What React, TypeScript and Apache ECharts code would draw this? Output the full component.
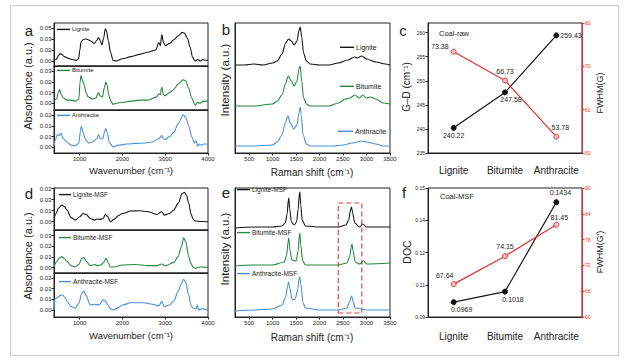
import React, { useEffect, useRef } from "react";
import * as echarts from "echarts";

const FONT = "Liberation Sans, Arial, Helvetica, sans-serif";

// ---------- Panel a: FTIR of raw coals (wavenumber, absorbance) ----------
const A_LIGNITE: [number, number][] = [
  [400, 0.001], [450, 0.002], [500, 0.007], [540, 0.010], [580, 0.009], [640, 0.006], [720, 0.004],
  [820, 0.002], [920, 0.001], [975, 0.003], [1005, 0.015], [1030, 0.026], [1080, 0.029], [1140, 0.030],
  [1200, 0.029], [1270, 0.027], [1340, 0.024], [1400, 0.028], [1440, 0.032], [1480, 0.028], [1520, 0.022],
  [1560, 0.031], [1600, 0.044], [1630, 0.040], [1670, 0.028], [1720, 0.012], [1780, 0.001], [1850, 0.0],
  [2000, 0.003], [2200, 0.006], [2400, 0.009], [2600, 0.012], [2780, 0.015], [2850, 0.025], [2885, 0.021],
  [2920, 0.036], [2960, 0.025], [3000, 0.021], [3100, 0.024], [3200, 0.029], [3300, 0.034], [3400, 0.039],
  [3450, 0.038], [3520, 0.031], [3580, 0.019], [3640, 0.005], [3700, 0.0], [3760, 0.002], [3820, 0.0],
  [3880, 0.002], [3940, 0.001], [4000, 0.001],
];
const A_BITUMITE: [number, number][] = [
  [400, 0.002], [460, 0.004], [500, 0.010], [530, 0.013], [570, 0.008], [620, 0.005], [700, 0.003],
  [800, 0.003], [900, 0.002], [980, 0.004], [1010, 0.020], [1030, 0.026], [1060, 0.022], [1100, 0.018],
  [1150, 0.010], [1200, 0.006], [1300, 0.004], [1380, 0.005], [1440, 0.010], [1480, 0.007], [1530, 0.006],
  [1580, 0.015], [1610, 0.020], [1640, 0.017], [1680, 0.008], [1730, 0.002], [1780, -0.001], [1850, 0.0],
  [2000, 0.001], [2200, 0.002], [2400, 0.003], [2600, 0.003], [2800, 0.006], [2850, 0.009], [2880, 0.008],
  [2920, 0.015], [2960, 0.008], [3000, 0.007], [3100, 0.010], [3200, 0.013], [3300, 0.018], [3420, 0.022],
  [3480, 0.021], [3550, 0.014], [3620, 0.005], [3700, -0.002], [3750, 0.001], [3800, 0.0], [3900, 0.002],
  [4000, 0.002],
];
const A_ANTHRACITE: [number, number][] = [
  [400, 0.0003], [440, 0.004], [480, 0.006], [520, 0.0055], [560, 0.0065], [620, 0.004], [700, 0.0025],
  [800, 0.001], [900, 0.0007], [980, 0.002], [1020, 0.008], [1040, 0.010], [1080, 0.007], [1130, 0.004],
  [1200, 0.002], [1300, 0.0025], [1400, 0.004], [1440, 0.006], [1480, 0.004], [1540, 0.004], [1580, 0.007],
  [1610, 0.0088], [1640, 0.007], [1700, 0.002], [1780, 0.0002], [1900, 0.001], [2100, 0.0015], [2300, 0.0018],
  [2500, 0.002], [2700, 0.0025], [2850, 0.004], [2920, 0.0055], [2960, 0.004], [3000, 0.0035], [3100, 0.005],
  [3200, 0.007], [3300, 0.011], [3420, 0.0152], [3480, 0.014], [3550, 0.010], [3620, 0.005], [3680, 0.002],
  [3720, 0.003], [3760, 0.0005], [3800, 0.0015], [3850, 0.001], [3900, 0.0015], [4000, 0.0015],
];

// ---------- Panel d: FTIR of MSF ----------
const D_LIGNITE: [number, number][] = [
  [400, 0.0024], [450, 0.006], [500, 0.0097], [580, 0.0121], [650, 0.011], [700, 0.0085], [800, 0.003],
  [900, 0.0012], [1000, 0.0036], [1080, 0.006], [1150, 0.0053], [1250, 0.0024], [1350, 0.0012], [1400, 0.002],
  [1480, 0.0017], [1550, 0.0024], [1600, 0.0053], [1650, 0.0039], [1720, 0.0], [1800, 0.0017], [1900, 0.0044],
  [2000, 0.006], [2200, 0.0078], [2400, 0.008], [2600, 0.0073], [2800, 0.0053], [2920, 0.0073], [2980, 0.0048],
  [3100, 0.006], [3200, 0.0085], [3300, 0.0133], [3400, 0.0206], [3450, 0.0213], [3500, 0.019], [3550, 0.0133],
  [3600, 0.006], [3650, 0.002], [3700, 0.0005], [3850, 0.0002], [4000, 0.0],
];
const D_BITUMITE: [number, number][] = [
  [400, 0.0009], [450, 0.005], [520, 0.0088], [580, 0.0103], [640, 0.0088], [700, 0.006], [800, 0.0019],
  [900, 0.0006], [980, 0.003], [1050, 0.0088], [1100, 0.0094], [1150, 0.006], [1250, 0.0019], [1350, 0.003],
  [1400, 0.0019], [1500, 0.0025], [1560, 0.005], [1620, 0.0088], [1660, 0.005], [1720, 0.0006], [1800, 0.0006],
  [2000, 0.0025], [2300, 0.003], [2600, 0.0019], [2800, 0.0019], [2920, 0.0034], [3000, 0.0016], [3200, 0.005],
  [3300, 0.0103], [3380, 0.0197], [3430, 0.028], [3480, 0.0244], [3550, 0.0103], [3600, 0.004], [3650, 0.0006],
  [3700, -0.0006], [3800, 0.0006], [4000, 0.0003],
];
const D_ANTHRACITE: [number, number][] = [
  [400, 0.0], [420, 0.0052], [480, 0.0058], [540, 0.0067], [600, 0.007], [660, 0.0058], [720, 0.0036],
  [800, 0.0016], [900, 0.0008], [980, 0.0031], [1050, 0.0078], [1100, 0.0089], [1150, 0.0067], [1250, 0.0023],
  [1350, 0.0027], [1450, 0.0023], [1550, 0.0047], [1600, 0.0042], [1660, 0.0023], [1720, 0.0005], [1800, 0.0],
  [1900, 0.0011], [2000, 0.0023], [2200, 0.0034], [2500, 0.0034], [2700, 0.0027], [2850, 0.0019], [2920, 0.0039],
  [2980, 0.0016], [3100, 0.0023], [3200, 0.0042], [3300, 0.0086], [3380, 0.0125], [3430, 0.0144], [3480, 0.013],
  [3550, 0.007], [3600, 0.0023], [3650, 0.0008], [3720, 0.0005], [3750, 0.0023], [3780, 0.0], [3850, 0.0005],
  [4000, 0.0],
];

// ---------- Panel b: Raman of raw coals (shift, stacked intensity a.u.) ----------
const B_LIGNITE: [number, number][] = [
  [200, 88], [400, 88], [600, 89], [800, 88], [1000, 90], [1100, 92], [1200, 99], [1280, 110], [1340, 114],
  [1400, 112], [1460, 108], [1520, 112], [1560, 122], [1590, 126], [1620, 116], [1660, 100], [1720, 92],
  [1800, 89], [2000, 88], [2200, 88], [2400, 90], [2600, 93], [2750, 96], [2800, 95], [2900, 97], [3000, 94],
  [3200, 91], [3400, 89], [3500, 88],
];
const B_BITUMITE: [number, number][] = [
  [200, 47], [600, 47], [1000, 49], [1100, 52], [1200, 58], [1280, 70], [1335, 77], [1400, 72], [1460, 67],
  [1520, 72], [1560, 84], [1588, 87], [1620, 72], [1660, 55], [1720, 49], [1800, 47], [2000, 47], [2200, 47],
  [2400, 50], [2550, 54], [2650, 55], [2750, 58], [2850, 55], [2920, 58], [3000, 55], [3080, 56], [3200, 54],
  [3350, 50], [3500, 49],
];
const B_ANTHRACITE: [number, number][] = [
  [200, 7], [600, 7], [1000, 8], [1100, 11], [1200, 18], [1270, 30], [1325, 37], [1380, 30], [1450, 24],
  [1520, 28], [1560, 40], [1590, 46], [1610, 38], [1650, 18], [1720, 9], [1800, 7], [2000, 7], [2300, 7],
  [2500, 8], [2700, 10], [2900, 12], [3000, 11], [3200, 9], [3350, 7], [3500, 7],
];

// ---------- Panel e: Raman of MSF ----------
const E_LIGNITE: [number, number][] = [
  [200, 89], [600, 90], [1000, 90], [1200, 91], [1270, 94], [1310, 103], [1335, 117], [1345, 119], [1365, 108],
  [1400, 95], [1460, 92], [1510, 95], [1545, 108], [1570, 123], [1582, 125], [1600, 112], [1630, 97], [1700, 91],
  [2000, 90], [2400, 90], [2560, 92], [2620, 97], [2660, 107], [2680, 110], [2705, 104], [2750, 94], [2850, 90],
  [2920, 93], [3000, 90], [3500, 90],
];
const E_BITUMITE: [number, number][] = [
  [200, 51], [600, 52], [1000, 52], [1250, 55], [1300, 62], [1330, 75], [1345, 79], [1370, 67], [1410, 57],
  [1500, 56], [1545, 66], [1570, 82], [1582, 84], [1600, 72], [1640, 56], [1700, 52], [2000, 52], [2400, 52],
  [2580, 54], [2640, 60], [2675, 70], [2690, 73], [2715, 66], [2760, 55], [2850, 53], [2940, 56], [3000, 53],
  [3500, 54],
];
const E_ANTHRACITE: [number, number][] = [
  [200, 6], [600, 7], [1000, 8], [1200, 12], [1280, 20], [1320, 31], [1340, 35], [1365, 29], [1420, 17],
  [1480, 18], [1530, 26], [1565, 38], [1580, 40], [1600, 33], [1650, 14], [1700, 9], [2000, 7], [2400, 7],
  [2580, 9], [2640, 15], [2670, 20], [2685, 21], [2710, 16], [2760, 9], [3000, 7], [3500, 7],
];
const E_HIGHLIGHT_X = [2400, 2900];
const E_HIGHLIGHT_Y = [4, 114];

// ---------- Panels c and f ----------
const CATEGORIES = ["Lignite", "Bitumite", "Anthracite"];
const GD_RAW = [240.22, 247.58, 259.43];
const FWHM_G_RAW = [73.38, 66.73, 53.78];
const DOC_MSF = [0.0969, 0.1018, 0.1434];
const FWHM_G2_MSF = [67.64, 74.15, 81.45];

// ---------- Tick values / labels ----------
const WN_TICKS = [1000, 2000, 3000, 4000];
const RAMAN_TICKS = [500, 1000, 1500, 2000, 2500, 3000, 3500];
const A1_TICKS = [0, 0.015, 0.03, 0.045];
const A1_LABELS = ["0.00", "0.02", "0.03", "0.05"];
const A2_TICKS = [0, 0.01, 0.02, 0.03];
const A2_LABELS = ["0.00", "0.01", "0.02", "0.03"];
const A3_TICKS = [0, 0.005, 0.01, 0.015];
const A3_LABELS = ["0.00", "0.01", "0.01", "0.02"];
const D1_TICKS = [0, 0.008, 0.016, 0.024];
const D1_LABELS = ["0.00", "0.01", "0.02", "0.02"];
const D2_TICKS = [0, 0.01, 0.02, 0.03];
const D2_LABELS = ["0.00", "0.01", "0.02", "0.03"];
const D3_TICKS = [0, 0.005, 0.01, 0.015];
const D3_LABELS = ["0.00", "0.01", "0.01", "0.02"];
const C_LEFT_TICKS = [235, 240, 245, 250, 255, 260];
const F_LEFT_TICKS = [0.09, 0.105, 0.12, 0.135, 0.15];
const F_LEFT_LABELS = ["0.09", "0.11", "0.12", "0.14", "0.15"];

const BLACK = "#151515";
const GREEN = "#24893d";
const BLUE = "#4a8fd6";
const RED = "#e5312e";
const AXIS = "#222";

const lookup = (ticks: number[], labels: string[]) => (v: number) => {
  const i = ticks.findIndex((t) => Math.abs(t - v) < 1e-9);
  return i >= 0 ? labels[i] : "";
};

function valueX(gridIndex: number, min: number, max: number, ticks: number[], showLabels: boolean) {
  return {
    type: "value", gridIndex, min, max,
    axisLine: { show: true, onZero: false, lineStyle: { color: AXIS, width: 1 } },
    axisTick: { show: showLabels, length: 2.5, customValues: ticks, lineStyle: { color: AXIS } },
    axisLabel: {
      show: showLabels, customValues: ticks, formatter: (v: number) => String(v),
      fontSize: 6, margin: 2.5, color: AXIS, fontFamily: FONT,
    },
    splitLine: { show: false },
  };
}
function valueY(gridIndex: number, min: number, max: number, ticks: number[] | null, labels: string[] | null) {
  return {
    type: "value", gridIndex, min, max,
    axisLine: { show: true, onZero: false, lineStyle: { color: AXIS, width: 1 } },
    axisTick: ticks ? { show: true, length: 2.5, customValues: ticks, lineStyle: { color: AXIS } } : { show: false },
    axisLabel: ticks
      ? { show: true, customValues: ticks, formatter: lookup(ticks, labels as string[]), fontSize: 6, margin: 2.5, color: AXIS, fontFamily: FONT }
      : { show: false },
    splitLine: { show: false },
  };
}
function spec(name: string, data: [number, number][], color: string, xi: number, yi: number, extra: any = {}) {
  return {
    type: "line", name, data, xAxisIndex: xi, yAxisIndex: yi,
    symbol: "none", smooth: 0.3, smoothMonotone: "x",
    lineStyle: { color, width: 1.1 }, itemStyle: { color },
    ...extra,
  };
}
function lbl(value: number, position: any, offset: number[] = [0, 0], distance = 2) {
  return { value, label: { show: true, position, offset, distance, fontSize: 7, color: "#222", fontFamily: FONT } };
}
function legend(name: string, left: number, cy: number, size: number, w: number) {
  return {
    data: [name], left, top: cy - size * 0.6, padding: 0, icon: "rect", itemWidth: w, itemHeight: 1.4, itemGap: 0,
    selectedMode: false, textStyle: { fontSize: size, color: "#222", fontFamily: FONT, padding: [0, 0, 0, -3] },
  };
}
function txt(text: string, x: number, y: number, size: number, opt: any = {}) {
  return {
    type: "text", x, y, rotation: opt.rot || 0, silent: true, z: 100,
    style: {
      text, fontSize: size, fontFamily: FONT, fill: opt.color || "#222",
      align: opt.align || "center", verticalAlign: "middle",
      textAlign: opt.align || "center", textVerticalAlign: "middle",
    },
  };
}
function catAxis(gridIndex: number, margin: number) {
  return {
    type: "category", gridIndex, data: CATEGORIES, boundaryGap: true,
    axisLine: { show: true, lineStyle: { color: AXIS } }, axisTick: { show: false },
    axisLabel: { interval: 0, fontSize: 10, margin, color: "#222", fontFamily: FONT },
  };
}

const GRID_BASE = { show: true, borderColor: AXIS, borderWidth: 1, backgroundColor: "transparent", containLabel: false, outerBoundsMode: "none" };

export default function App() {
  const ref = useRef<HTMLDivElement>(null);
  useEffect(() => {
    if (!ref.current) return;
    const chart = echarts.init(ref.current, null, { renderer: "svg" });
    const option: any = {
      animation: false,
      textStyle: { fontFamily: FONT },
      grid: [
        { ...GRID_BASE, left: 54, top: 23, width: 154, height: 43 },
        { ...GRID_BASE, left: 54, top: 66, width: 154, height: 44 },
        { ...GRID_BASE, left: 54, top: 110, width: 154, height: 43 },
        { ...GRID_BASE, left: 235, top: 23, width: 155, height: 130 },
        { ...GRID_BASE, left: 428, top: 23, width: 154, height: 130 },
        { ...GRID_BASE, left: 54, top: 188, width: 154, height: 42 },
        { ...GRID_BASE, left: 54, top: 230, width: 154, height: 43 },
        { ...GRID_BASE, left: 54, top: 273, width: 154, height: 44 },
        { ...GRID_BASE, left: 235, top: 188, width: 155, height: 129 },
        { ...GRID_BASE, left: 428, top: 188, width: 154, height: 129 },
      ],
      xAxis: [
        valueX(0, 400, 4000, WN_TICKS, false),
        valueX(1, 400, 4000, WN_TICKS, false),
        valueX(2, 400, 4000, WN_TICKS, true),
        valueX(3, 200, 3500, RAMAN_TICKS, true),
        catAxis(4, 12),
        valueX(5, 400, 4000, WN_TICKS, false),
        valueX(6, 400, 4000, WN_TICKS, false),
        valueX(7, 400, 4000, WN_TICKS, true),
        valueX(8, 200, 3500, RAMAN_TICKS, true),
        catAxis(9, 14),
      ],
      yAxis: [
        valueY(0, -0.0068, 0.0518, A1_TICKS, A1_LABELS),
        valueY(1, -0.0063, 0.035, A2_TICKS, A2_LABELS),
        valueY(2, -0.0027, 0.0175, A3_TICKS, A3_LABELS),
        valueY(3, 0, 130, null, null),
        {
          type: "value", gridIndex: 4, min: 235, max: 262, position: "left",
          axisLine: { show: true, lineStyle: { color: AXIS } },
          axisTick: { show: true, length: 2.5, customValues: C_LEFT_TICKS },
          axisLabel: { customValues: C_LEFT_TICKS, fontSize: 5, margin: 3, color: "#222", fontFamily: FONT },
          splitLine: { show: false },
        },
        {
          type: "value", gridIndex: 4, min: 50, max: 80, interval: 10, position: "right",
          axisLine: { show: true, lineStyle: { color: RED } },
          axisTick: { show: true, length: 2.5, lineStyle: { color: RED } },
          axisLabel: { fontSize: 5, margin: 3, color: RED, fontFamily: FONT },
          splitLine: { show: false },
        },
        valueY(5, -0.006, 0.0245, D1_TICKS, D1_LABELS),
        valueY(6, -0.005, 0.0353, D2_TICKS, D2_LABELS),
        valueY(7, -0.0033, 0.0173, D3_TICKS, D3_LABELS),
        valueY(8, 0, 129, null, null),
        {
          type: "value", gridIndex: 9, min: 0.09, max: 0.15, position: "left",
          axisLine: { show: true, lineStyle: { color: AXIS } },
          axisTick: { show: true, length: 2.5, customValues: F_LEFT_TICKS },
          axisLabel: { customValues: F_LEFT_TICKS, formatter: lookup(F_LEFT_TICKS, F_LEFT_LABELS), fontSize: 5, margin: 3, color: "#222", fontFamily: FONT },
          splitLine: { show: false },
        },
        {
          type: "value", gridIndex: 9, min: 60, max: 90, interval: 6, position: "right",
          axisLine: { show: true, lineStyle: { color: RED } },
          axisTick: { show: true, length: 2.5, lineStyle: { color: RED } },
          axisLabel: { fontSize: 5, margin: 3, color: RED, fontFamily: FONT },
          splitLine: { show: false },
        },
      ],
      legend: [
        legend("Lignite", 57, 30, 6, 13),
        legend("Bitumite", 57, 71, 6, 13),
        legend("Anthracite", 57, 116, 6, 13),
        legend("Lignite", 340, 48, 7, 14),
        legend("Bitumite", 340, 87, 7, 14),
        legend("Anthracite", 338, 132, 7, 15),
        legend("Lignite-MSF", 59, 195, 6.5, 12),
        legend("Bitumite-MSF", 59, 238, 6.5, 12),
        legend("Anthracite-MSF", 59, 282, 6.5, 12),
        legend("Lignite-MSF", 237, 190, 6.5, 13),
        legend("Bitumite-MSF", 237, 233, 6.5, 13),
        legend("Anthracite-MSF", 237, 274, 6.5, 13),
      ],
      series: [
        spec("Lignite", A_LIGNITE, BLACK, 0, 0),
        spec("Bitumite", A_BITUMITE, GREEN, 1, 1),
        spec("Anthracite", A_ANTHRACITE, BLUE, 2, 2),
        spec("Lignite", B_LIGNITE, BLACK, 3, 3),
        spec("Bitumite", B_BITUMITE, GREEN, 3, 3),
        spec("Anthracite", B_ANTHRACITE, BLUE, 3, 3),
        {
          type: "line", name: "G–D", xAxisIndex: 4, yAxisIndex: 4,
          data: [lbl(GD_RAW[0], "bottom", [0, 0], 1), lbl(GD_RAW[1], "bottom", [6, 0], 1), lbl(GD_RAW[2], "right", [0, 0], 1)],
          symbol: "circle", symbolSize: 5, lineStyle: { color: BLACK, width: 1.2 },
          itemStyle: { color: "#111", borderColor: "#111", borderWidth: 1 }, z: 3,
        },
        {
          type: "line", name: "FWHM(G)", xAxisIndex: 4, yAxisIndex: 5,
          data: [lbl(FWHM_G_RAW[0], "left", [0, -5], 2), lbl(FWHM_G_RAW[1], "top", [0, 0], 3), lbl(FWHM_G_RAW[2], "top", [4, 0], 3)],
          symbol: "circle", symbolSize: 5, lineStyle: { color: RED, width: 1.2 },
          itemStyle: { color: "#f6c4c4", borderColor: RED, borderWidth: 1 }, z: 4,
        },
        spec("Lignite-MSF", D_LIGNITE, BLACK, 5, 6),
        spec("Bitumite-MSF", D_BITUMITE, GREEN, 6, 7),
        spec("Anthracite-MSF", D_ANTHRACITE, BLUE, 7, 8),
        spec("Lignite-MSF", E_LIGNITE, BLACK, 8, 9),
        spec("Bitumite-MSF", E_BITUMITE, GREEN, 8, 9),
        spec("Anthracite-MSF", E_ANTHRACITE, BLUE, 8, 9, {
          markArea: {
            silent: true,
            itemStyle: { color: "rgba(0,0,0,0)", borderColor: "#e0474a", borderWidth: 1.2, borderType: [5, 3] },
            data: [[{ xAxis: E_HIGHLIGHT_X[0], yAxis: E_HIGHLIGHT_Y[0] }, { xAxis: E_HIGHLIGHT_X[1], yAxis: E_HIGHLIGHT_Y[1] }]],
          },
        }),
        {
          type: "line", name: "DOC", xAxisIndex: 9, yAxisIndex: 10,
          data: [lbl(DOC_MSF[0], "bottom", [8, 0], 1), lbl(DOC_MSF[1], "bottom", [8, 0], 1), lbl(DOC_MSF[2], "top", [4, 0], 3)],
          symbol: "circle", symbolSize: 5, lineStyle: { color: BLACK, width: 1.2 },
          itemStyle: { color: "#111", borderColor: "#111", borderWidth: 1 }, z: 3,
        },
        {
          type: "line", name: "FWHM(G')", xAxisIndex: 9, yAxisIndex: 11,
          data: [lbl(FWHM_G2_MSF[0], "top", [-9, 0], 2), lbl(FWHM_G2_MSF[1], "top", [0, 0], 3), lbl(FWHM_G2_MSF[2], "top", [3, 0], 1)],
          symbol: "circle", symbolSize: 5, lineStyle: { color: RED, width: 1.2 },
          itemStyle: { color: "#f6c4c4", borderColor: RED, borderWidth: 1 }, z: 4,
        },
      ],
      graphic: [
        { type: "rect", silent: true, z: -10, shape: { x: 10.5, y: 5.5, width: 608, height: 350 }, style: { fill: "none", stroke: "#c9c9c9", lineWidth: 1 } },
        txt("a", 29, 30, 15),
        txt("b", 226, 29, 15),
        txt("c", 403, 30, 15),
        txt("d", 29, 193, 15),
        txt("e", 226, 192, 15),
        txt("f", 404, 192, 15),
        txt("Absorbance (a.u.)", 28, 86, 11, { rot: Math.PI / 2 }),
        txt("Wavenumber (cm⁻¹)", 131, 170, 9.5),
        txt("Intensity (a.u.)", 225, 80, 11.5, { rot: Math.PI / 2 }),
        txt("Raman shift (cm⁻¹)", 312, 172, 10),
        txt("G–D (cm⁻¹)", 406, 87, 10, { rot: Math.PI / 2 }),
        txt("FWHM(G)", 600, 93, 9, { rot: Math.PI / 2 }),
        txt("Coal-raw", 439, 33, 7.5, { align: "left" }),
        txt("Absorbance (a.u.)", 28, 256, 11, { rot: Math.PI / 2 }),
        txt("Wavenumber (cm⁻¹)", 131, 335, 9.5),
        txt("Intensity (a.u.)", 225, 249, 11.5, { rot: Math.PI / 2 }),
        txt("Raman shift (cm⁻¹)", 312, 337, 10),
        txt("DOC", 407, 252, 10.5, { rot: Math.PI / 2 }),
        txt("FWHM(G')", 600, 252, 9, { rot: Math.PI / 2 }),
        txt("Coal-MSF", 440, 196, 7.5, { align: "left" }),
      ],
    };
    chart.setOption(option);
    return () => chart.dispose();
  }, []);
  return (
    <div
      ref={ref}
      style={{ position: "fixed", left: 0, top: 0, width: 625, height: 363, background: "#fff" }}
    />
  );
}
